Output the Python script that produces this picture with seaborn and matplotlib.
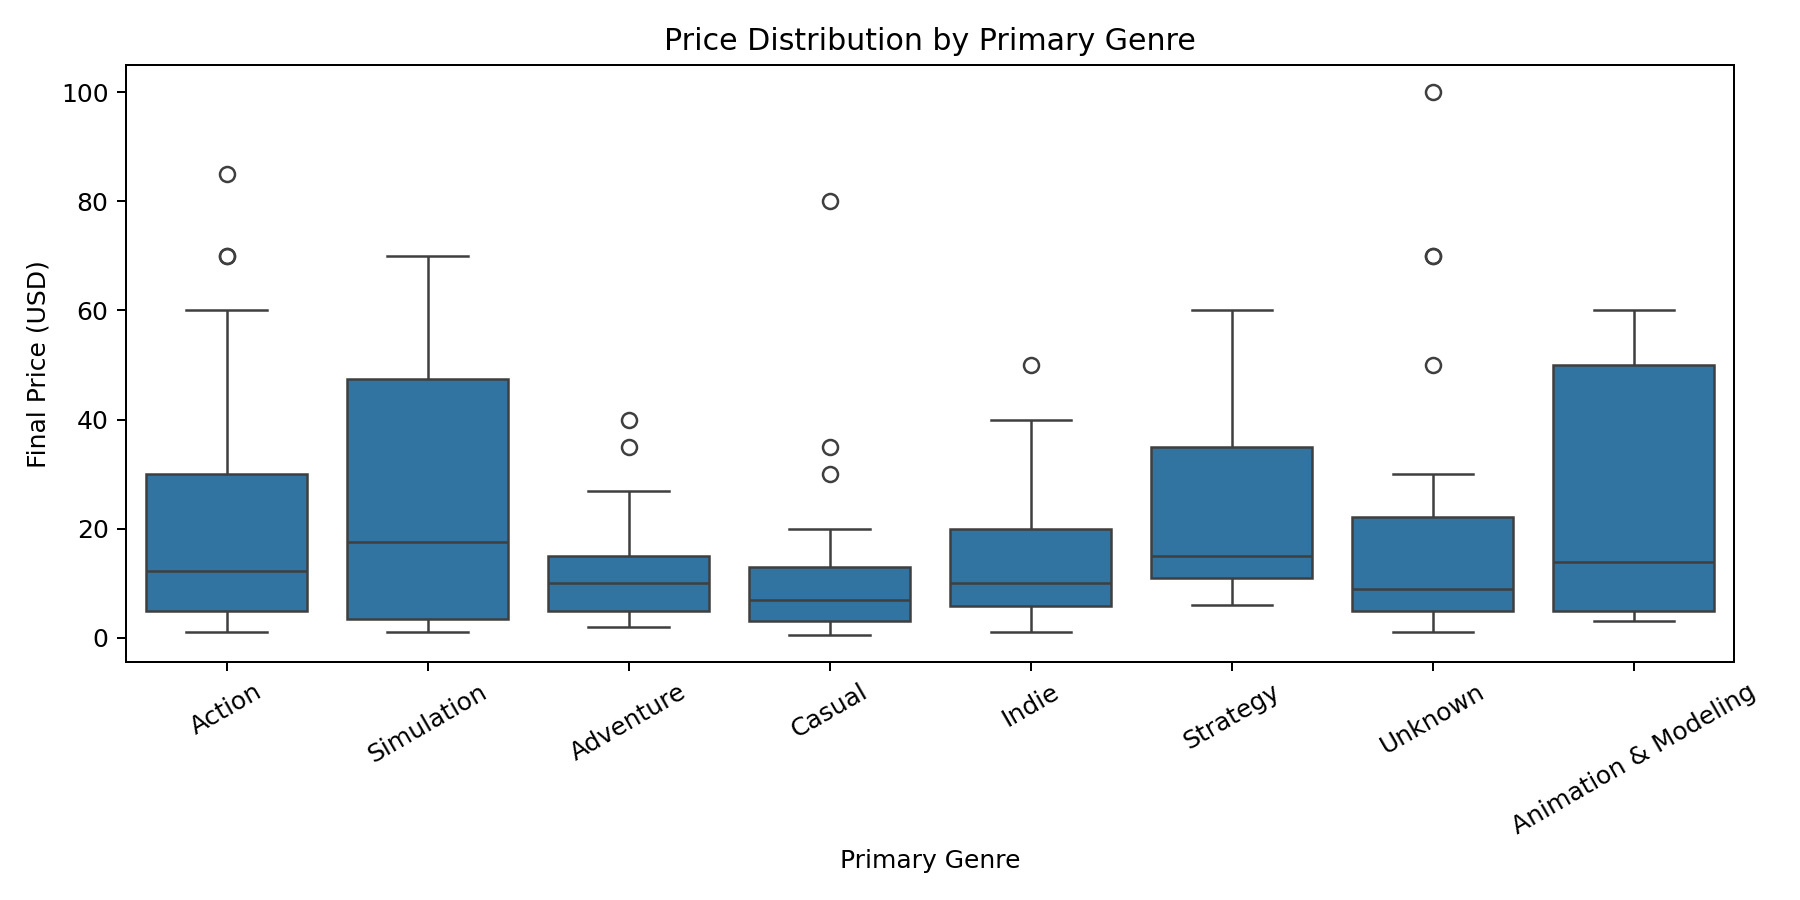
import matplotlib
matplotlib.use("Agg")
import matplotlib.pyplot as plt
import seaborn as sns
import pandas as pd

genres = ["Action", "Simulation", "Adventure", "Casual", "Indie",
          "Strategy", "Unknown", "Animation & Modeling"]

action = [0.99, 1.99, 2.99, 3.99, 4.99, 6.99, 7.99, 9.99, 12.24, 14.99,
          19.99, 24.99, 29.99, 59.99, 69.99, 69.99, 84.99]
simulation = [0.99, 1.99, 3.41, 9.99, 17.49, 29.99, 47.49, 59.99, 69.99]
adventure = [1.99, 2.99, 3.99, 4.99, 6.99, 7.99, 9.99, 11.99, 14.99, 14.99,
             26.99, 34.99, 39.99]
casual = [0.49, 0.99, 1.99, 2.99, 3.09, 4.99, 4.99, 5.99, 6.99, 7.99, 9.99,
          11.99, 12.99, 19.99, 29.99, 34.99, 79.99]
indie = [0.99, 2.99, 5.79, 7.99, 9.99, 14.99, 19.99, 39.99, 49.99]
strategy = [5.99, 7.99, 10.99, 12.99, 14.99, 24.99, 34.99, 49.99, 59.99]
unknown = [0.99, 1.99, 2.99, 3.99, 4.99, 4.99, 5.99, 6.99, 7.99, 8.99, 8.99,
           9.99, 12.99, 14.99, 19.99, 22.09, 29.99, 49.99, 69.99, 69.99, 99.99]
animation = [2.99, 4.99, 13.85, 49.99, 59.99]

series = [action, simulation, adventure, casual, indie, strategy, unknown, animation]
rows = []
for g, vals in zip(genres, series):
    for v in vals:
        rows.append({"Primary Genre": g, "Final Price (USD)": v})
df = pd.DataFrame(rows)

fig, ax = plt.subplots(figsize=(10, 5), dpi=180)
sns.boxplot(data=df, x="Primary Genre", y="Final Price (USD)", order=genres, ax=ax)
ax.set_title("Price Distribution by Primary Genre")
ax.set_xlabel("Primary Genre")
ax.set_ylabel("Final Price (USD)")
plt.setp(ax.get_xticklabels(), rotation=30)
fig.tight_layout()
fig.savefig("out.png", dpi=180)
